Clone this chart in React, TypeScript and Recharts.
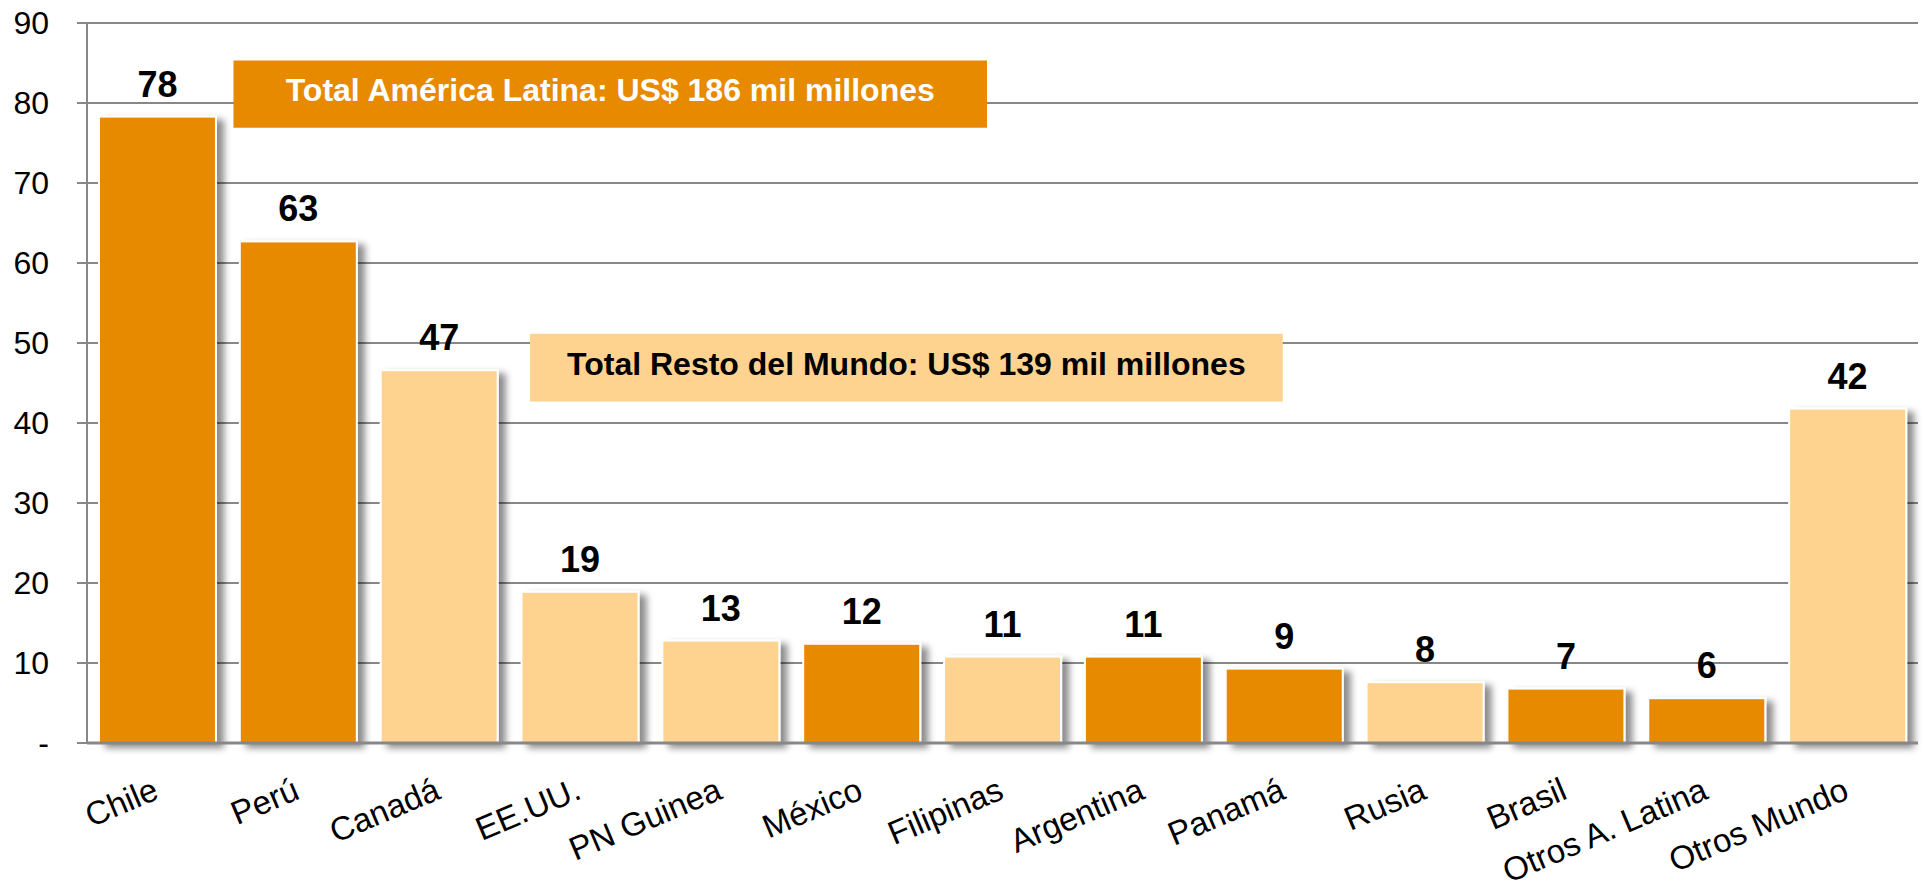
import React from "react";
import {
  BarChart,
  Bar,
  XAxis,
  YAxis,
  CartesianGrid,
  Cell,
  LabelList,
  ReferenceArea,
} from "recharts";

const DARK = "#e88a00";
const LIGHT = "#fed28f";
const GRID = "#878787";
const FONT = "'Liberation Sans', Arial, sans-serif";

const countries = [
  "Chile",
  "Perú",
  "Canadá",
  "EE.UU.",
  "PN Guinea",
  "México",
  "Filipinas",
  "Argentina",
  "Panamá",
  "Rusia",
  "Brasil",
  "Otros A. Latina",
  "Otros Mundo",
];
const investment = [78.3, 62.7, 46.6, 18.9, 12.8, 12.4, 10.8, 10.8, 9.3, 7.6, 6.8, 5.6, 41.8];
// "AL" = América Latina, "RM" = Resto del Mundo
const region = ["AL", "AL", "RM", "RM", "RM", "AL", "RM", "AL", "AL", "RM", "AL", "AL", "RM"];
const yTicks = [0, 10, 20, 30, 40, 50, 60, 70, 80, 90];
const edgeTicks = [0, 1, 2, 3, 4, 5, 6, 7, 8, 9, 10, 11, 12, 13];

const data = countries.map((name, i) => ({
  name,
  value: investment[i],
  region: region[i],
  slot: i + 0.5,
}));

const ShadowBar = (props: any) => {
  const { x, y, width, height, fill, index } = props;
  if (!height || height <= 0) return null;
  const id = `barShadow${index}`;
  return (
    <g>
      <defs>
        <filter id={id} x="-20%" y="-20%" width="150%" height="150%">
          <feDropShadow dx="7" dy="4" stdDeviation="3.5" floodColor="#000" floodOpacity="0.45" />
        </filter>
      </defs>
      <rect
        x={x}
        y={y}
        width={width}
        height={height}
        fill={fill}
        stroke="#ffffff"
        strokeWidth={2}
        filter={`url(#${id})`}
      />
    </g>
  );
};

const CountryTick = (props: any) => {
  const { x, y, payload } = props;
  return (
    <g transform={`translate(${x + 3},${y + 55})`}>
      <text
        textAnchor="end"
        transform="rotate(-23)"
        fontSize={33}
        fontFamily={FONT}
        fill="#000"
      >
        {payload.value}
      </text>
    </g>
  );
};

const ValueTick = (props: any) => {
  const { x, y, payload } = props;
  const v = payload.value;
  return (
    <text
      x={x}
      y={y}
      textAnchor="end"
      dominantBaseline="central"
      fontSize={32}
      fontFamily={FONT}
      fill="#000"
    >
      {v === 0 ? "-" : String(v)}
    </text>
  );
};

const boxLabel = (text: string, color: string) => (props: any) => {
  const { viewBox } = props;
  const cx = viewBox.x + viewBox.width / 2;
  const cy = viewBox.y + viewBox.height / 2 - 4;
  return (
    <text
      x={cx}
      y={cy}
      textAnchor="middle"
      dominantBaseline="central"
      fontSize={32}
      fontWeight="bold"
      fontFamily={FONT}
      fill={color}
    >
      {text}
    </text>
  );
};

export default function App() {
  return (
    <div style={{ position: "absolute", left: 0, top: 0, background: "#fff" }}>
      <BarChart
        width={1923}
        height={889}
        data={data}
        margin={{ top: 23, right: 5, bottom: 0, left: 0 }}
        barCategoryGap="8.5%"
      >
        <CartesianGrid vertical={false} stroke={GRID} strokeWidth={2} />
        <XAxis
          xAxisId="edges"
          dataKey="slot"
          type="number"
          domain={[0, 13]}
          ticks={edgeTicks}
          allowDataOverflow
          tick={false}
          tickSize={10}
          axisLine={false}
          tickLine={{ stroke: GRID, strokeWidth: 2 }}
          height={0}
        />
        <XAxis
          dataKey="name"
          interval={0}
          height={146}
          tickLine={false}
          tickSize={0}
          tickMargin={0}
          axisLine={{ stroke: GRID, strokeWidth: 3 }}
          tick={<CountryTick />}
        />
        <YAxis
          domain={[0, 90]}
          ticks={yTicks}
          width={87}
          tickSize={10}
          tickMargin={28}
          interval={0}
          axisLine={{ stroke: GRID, strokeWidth: 2 }}
          tickLine={{ stroke: GRID, strokeWidth: 2 }}
          tick={<ValueTick />}
        />
        <Bar dataKey="value" isAnimationActive={false} shape={<ShadowBar />}>
          {data.map((d, i) => (
            <Cell key={i} fill={d.region === "AL" ? DARK : LIGHT} />
          ))}
          <LabelList
            dataKey="value"
            position="top"
            offset={20}
            formatter={(v: any) => Math.round(Number(v))}
            fill="#000"
            fontSize={36}
            fontWeight="bold"
            fontFamily={FONT}
          />
        </Bar>
        <ReferenceArea
          xAxisId="edges"
          x1={1.04}
          x2={6.39}
          y1={76.9}
          y2={85.3}
          fill={DARK}
          fillOpacity={1}
          stroke="none"
          ifOverflow="visible"
          label={boxLabel("Total América Latina: US$ 186 mil millones", "#fff")}
        />
        <ReferenceArea
          xAxisId="edges"
          x1={3.145}
          x2={8.49}
          y1={42.7}
          y2={51.15}
          fill={LIGHT}
          fillOpacity={1}
          stroke="none"
          ifOverflow="visible"
          label={boxLabel("Total Resto del Mundo: US$ 139 mil millones", "#000")}
        />
      </BarChart>
    </div>
  );
}
